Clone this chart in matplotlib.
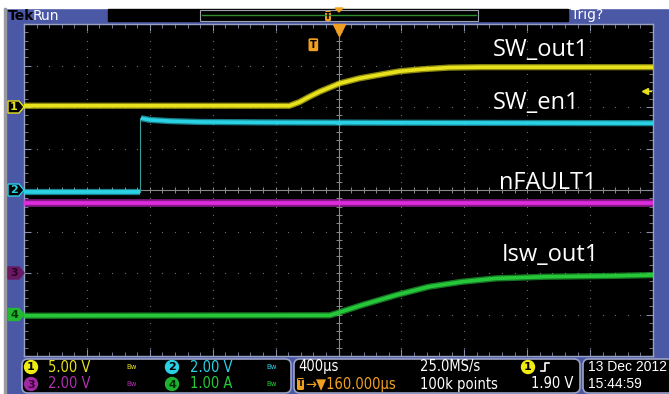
import matplotlib
matplotlib.use('Agg')
import matplotlib.pyplot as plt
import matplotlib.transforms as mtransforms
from matplotlib.patches import Rectangle, FancyBboxPatch, Polygon, Circle
import numpy as np

# screen is 10 x 8 divisions; trace values are in divisions
ch1_t = [0, 4.22, 4.38, 4.54, 4.70, 5.02, 5.33, 5.70, 5.97, 6.33, 6.76, 7.29, 8.5, 10]
ch1_v = [6.03, 6.03, 6.12, 6.25, 6.37, 6.57, 6.69, 6.79, 6.86, 6.91, 6.95, 6.96, 6.96, 6.96]

ch2_low_t = [0, 1.84]
ch2_low_v = [3.96, 3.96]
ch2_high_t = [1.86, 2.0, 2.32, 2.79, 3.75, 6.0, 10]
ch2_high_v = [5.73, 5.69, 5.66, 5.64, 5.63, 5.62, 5.61]

ch3_t = [0, 10]
ch3_v = [3.68, 3.68]

ch4_t = [0, 4.86, 4.97, 5.38, 5.92, 6.44, 6.97, 7.5, 8.3, 9.35, 10]
ch4_v = [0.97, 0.98, 1.03, 1.23, 1.47, 1.67, 1.79, 1.87, 1.91, 1.93, 1.95]

ch_ground = [6.0, 4.0, 2.0, 1.0]
ch_names = ['1', '2', '3', '4']
trace_labels = ['SW_out1', 'SW_en1', 'nFAULT1', 'Isw_out1']
label_pos = [(7.45, 7.37), (7.45, 6.1), (7.55, 4.17), (7.6, 2.43)]

YEL = '#e8e21c'
CYN = '#2ad2e6'
MAG = '#e02ce0'
GRN = '#26c83a'
ORG = '#f0a020'
BLUE = '#4b58a6'
EDGE = '#9aa2c4'

W, H = 669, 394
fig = plt.figure(figsize=(6.69, 3.94), dpi=100)
fig.patch.set_facecolor(BLUE)

# overlay in pixel units for the scope frame
ov = fig.add_axes([0, 0, 1, 1], zorder=0)
ov.set_xlim(0, W)
ov.set_ylim(H, 0)
ov.axis('off')
ov.add_patch(Rectangle((0, 0), 4, H, color='white'))
ov.add_patch(Rectangle((0, 0), W, 8, color='white'))
ov.add_patch(Rectangle((4, 8), 1.5, H, color='#9a9aa0'))

# top bar
ov.text(8, 15.5, 'Tek', color='black', fontsize=10, fontweight='bold', va='center', ha='left')
ov.text(33, 15.5, 'Run', color='white', fontsize=10, va='center', ha='left')
ov.add_patch(Rectangle((108, 9), 460, 12, color='black'))
ov.add_patch(Rectangle((200, 9.5), 278, 11, fill=False, ec='#a0a4b0', lw=0.8))
ov.plot([202, 476], [15, 15], color='#2e8a2e', lw=1)
ov.add_patch(FancyBboxPatch((325, 11), 6, 10, boxstyle='round,pad=0,rounding_size=1.5', fc=ORG, ec='none'))
ov.text(328, 16, 'T', color='black', fontsize=6, ha='center', va='center', fontweight='bold')
ov.add_patch(Polygon([[335, 8], [343, 8], [339, 12]], color=ORG))
ov.text(571, 15, 'Trig?', color='white', fontsize=10, va='center', ha='left')

# bottom info boxes
for x0, x1 in [(22, 291), (294, 580), (583, 680)]:
    ov.add_patch(FancyBboxPatch((x0, 359), x1 - x0, 34, boxstyle='round,pad=0,rounding_size=6',
                                fc='black', ec=EDGE, lw=1.2))

def badge(x, y, txt, fc, tc):
    ov.add_patch(Circle((x, y), 6.5, color=fc))
    ov.text(x, y + 0.5, txt, color=tc, fontsize=8, ha='center', va='center', fontweight='bold')

r1, r2 = 367, 384
bfont = dict(fontsize=10.5, va='center', ha='left', family='DejaVu Sans', fontstretch='condensed')
badge(31, r1, '1', '#f0ec10', 'black')
ov.text(48, r1, '5.00 V', color=YEL, **bfont)
ov.text(126, r1, 'Bw', color=YEL, fontsize=5, va='center')
badge(31, r2, '3', '#a028a0', '#400040')
ov.text(48, r2, '2.00 V', color='#b030b0', **bfont)
ov.text(126, r2, 'Bw', color='#b030b0', fontsize=5, va='center')
badge(172, r1, '2', CYN, 'black')
ov.text(190, r1, '2.00 V', color=CYN, **bfont)
ov.text(266, r1, 'Bw', color=CYN, fontsize=5, va='center')
badge(172, r2, '4', '#20b030', '#003000')
ov.text(190, r2, '1.00 A', color=GRN, **bfont)
ov.text(266, r2, 'Bw', color=GRN, fontsize=5, va='center')

ov.text(298, r1, '400µs', color='white', **bfont)
ov.text(420, r1, '25.0MS/s', color='white', **bfont)
badge(528, r1, '1', '#f0ec10', 'black')
ov.plot([541, 545, 545, 549], [r1 + 4, r1 + 4, r1 - 4, r1 - 4], color='white', lw=1.2)
ov.add_patch(FancyBboxPatch((297, r2 - 6), 7, 12, boxstyle='round,pad=0,rounding_size=1.5', fc=ORG, ec='none'))
ov.text(300.5, r2, 'T', color='black', fontsize=6, ha='center', va='center', fontweight='bold')
ov.text(305, r2, '→▼160.000µs', color=ORG, **bfont)
ov.text(420, r2, '100k points', color='white', **bfont)
ov.text(573, r2, '1.90 V', color='white', fontsize=10.5, va='center', ha='right', fontstretch='condensed')
ov.text(588, r1, '13 Dec 2012', color='white', fontsize=10, family='Liberation Sans', va='center', ha='left')
ov.text(588, r2, '15:44:59', color='white', fontsize=10, family='Liberation Sans', va='center', ha='left')

# graticule area
ax = fig.add_axes([24 / W, 1 - 356 / H, (653 - 24) / W, (356 - 24) / H], zorder=1)
ax.set_facecolor('black')
ax.set_xlim(0, 10)
ax.set_ylim(0, 8)
for s in ax.spines.values():
    s.set_color(EDGE)
    s.set_linewidth(1)
ax.set_xticks(np.arange(0, 11))
ax.set_yticks(np.arange(0, 9))
ax.set_xticks(np.arange(0, 10.01, 0.2), minor=True)
ax.set_yticks(np.arange(0, 8.01, 0.2), minor=True)
ax.tick_params(which='both', direction='in', top=True, right=True, colors='#8890a8',
               labelbottom=False, labelleft=False)
ax.tick_params(which='major', length=5, width=0.8)
ax.tick_params(which='minor', length=3, width=0.6)

# dotted grid
minor_x = np.arange(0, 10.01, 0.2)
minor_y = np.arange(0, 8.01, 0.2)
for gy in range(1, 8):
    ax.scatter(minor_x, np.full(len(minor_x), gy), s=0.8, color='#707070', lw=0, zorder=1)
for gx in range(1, 10):
    ax.scatter(np.full(len(minor_y), gx), minor_y, s=0.8, color='#707070', lw=0, zorder=1)
ax.axvline(5, color='#8a8a8a', lw=0.8, zorder=1)
ax.axhline(4, color='#8a8a8a', lw=0.8, zorder=1)
ax.plot(minor_x, np.full(len(minor_x), 4), ls='none', marker='|', ms=5, color='#8a8a8a', mew=0.7)
ax.plot(np.full(len(minor_y), 5), minor_y, ls='none', marker='_', ms=5, color='#8a8a8a', mew=0.7)

# traces, drawn twice for the fuzzy phosphor look
def trace(t, v, c, w=4.5):
    ax.plot(t, v, color=c, lw=w, alpha=0.6, solid_capstyle='butt', zorder=3)
    ax.plot(t, v, color=c, lw=2.6, solid_capstyle='butt', zorder=4)

trace(ch1_t, ch1_v, YEL)
trace(ch3_t, ch3_v, MAG, 5.5)
trace(ch2_low_t, ch2_low_v, CYN)
trace(ch2_high_t, ch2_high_v, CYN)
ax.plot([ch2_low_t[-1] + 0.01] * 2, [ch2_low_v[-1], ch2_high_v[0]], color='#3a9a9a', lw=0.8, zorder=3)
trace(ch4_t, ch4_v, GRN)

for (lx, ly), lab in zip(label_pos, trace_labels):
    ax.text(lx, ly, lab, color='white', fontsize=17, family='Open Sans', va='center', ha='left', zorder=5)

# trigger markers
ax.plot(5, 7.86, marker='v', ms=8, color=ORG, clip_on=False, zorder=6)
ax.text(4.6, 7.5, 'T', color='black', fontsize=7, fontweight='bold', ha='center', va='center',
        bbox=dict(boxstyle='round,pad=0.15', fc=ORG, ec='none'), zorder=6)
ax.plot(9.88, 6.38, marker='<', ms=5, color=YEL, zorder=6)
ax.plot([9.88, 9.97], [6.38, 6.38], color=YEL, lw=1, zorder=6)

# channel ground markers on the left edge
bt = mtransforms.blended_transform_factory(ax.transAxes, ax.transData)
mk_face = ['black', 'black', '#6a1a62', '#22b832']
mk_edge = [YEL, CYN, '#6a1a62', '#22b832']
mk_text = [YEL, CYN, '#2a002a', '#003a00']
dx = 1 / 629
dy = 1 / 41.5
for g, n, fc, ec, tc in zip(ch_ground, ch_names, mk_face, mk_edge, mk_text):
    pts = [[-16 * dx, g + 6 * dy], [-5 * dx, g + 6 * dy], [0, g], [-5 * dx, g - 6 * dy], [-16 * dx, g - 6 * dy]]
    ax.add_patch(Polygon(pts, closed=True, fc=fc, ec=ec, lw=1, transform=bt, clip_on=False, zorder=6))
    ax.text(-10 * dx, g, n, color=tc, fontsize=8, fontweight='bold', ha='center', va='center',
            transform=bt, clip_on=False, zorder=7)

fig.savefig('out.png', dpi=100, facecolor=fig.get_facecolor())
